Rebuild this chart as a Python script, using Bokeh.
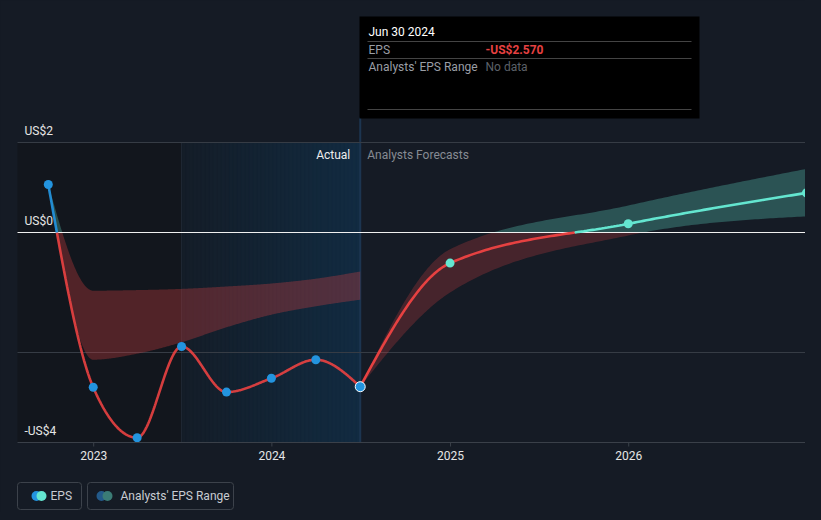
import numpy as np
from bokeh.plotting import figure
from bokeh.models import Range1d
from bokeh.core.properties import value
from bokeh.embed import file_html
from bokeh.resources import INLINE

# ---------------- data ----------------
eps_dates = ["2022-09-30", "2022-12-31", "2023-03-31", "2023-06-30",
             "2023-09-30", "2023-12-31", "2024-03-31", "2024-06-30"]
eps_values = [0.80, -2.58, -3.42, -1.90, -2.66, -2.43, -2.12, -2.57]
past_range_high = [0.80, -0.97, -0.96, -0.94, -0.90, -0.85, -0.77, -0.65]
past_range_low = [0.80, -2.12, -2.02, -1.83, -1.58, -1.37, -1.23, -1.12]

fc_dates = ["2024-06-30", "2024-12-31", "2025-12-31", "2026-12-31"]
fc_values = [-2.57, -0.51, 0.145, 0.66]
fc_high = [-2.57, -0.28, 0.45, 1.06]
fc_low = [-2.57, -1.00, -0.05, 0.27]

year_ticks = ["2023-01-01", "2024-01-01", "2025-01-01", "2026-01-01"]
year_labels = ["2023", "2024", "2025", "2026"]
y_label_values = [1.5, 0.0, -3.5]
y_labels = ["US$2", "US$0", "-US$4"]
grid_values = [1.5, -2.0]

# ---------------- colours ----------------
BG = "#151b25"
DARK = "#12161d"
RED = "#e64141"
BLUE = "#2394df"
TURQ = "#64e6d0"
GRID = "#363c45"
FONT = value("Roboto")


def ms(d):
    return np.datetime64(d, "ms").astype("int64").astype(float)


DAY = 86400000.0
PX_PER_DAY = 178.3 / 365.25
T_REF, PX_REF = ms("2023-01-01"), 93.2


def xd(px):  # screen pixel -> x data
    return T_REF + (px - PX_REF) / PX_PER_DAY * DAY


def yd(py):  # screen pixel -> y data
    return (232.0 - py) / 60.0


def monotone(xs, ys, n=60):
    x = np.asarray(xs, float) / DAY
    y = np.asarray(ys, float)
    m = len(x)
    h = np.diff(x)
    s = np.diff(y) / h
    t = np.zeros(m)
    for i in range(1, m - 1):
        h0, h1, s0, s1 = h[i - 1], h[i], s[i - 1], s[i]
        p = (s0 * h1 + s1 * h0) / (h0 + h1)
        t[i] = (np.sign(s0) + np.sign(s1)) * min(abs(s0), abs(s1), 0.5 * abs(p))
    if m > 2:
        t[0] = (3 * s[0] - t[1]) / 2
        t[-1] = (3 * s[-1] - t[-2]) / 2
    else:
        t[0] = t[-1] = s[0]
    ox, oy = [], []
    for i in range(m - 1):
        u = np.linspace(0, 1, n, endpoint=(i == m - 2))
        h00 = 2 * u**3 - 3 * u**2 + 1
        h10 = u**3 - 2 * u**2 + u
        h01 = -2 * u**3 + 3 * u**2
        h11 = u**3 - u**2
        ox.append(x[i] + u * h[i])
        oy.append(h00 * y[i] + h10 * h[i] * t[i] + h01 * y[i + 1] + h11 * h[i] * t[i + 1])
    return np.concatenate(ox) * DAY, np.concatenate(oy)


def with_crossings(x, y):
    ox, oy = [x[0]], [y[0]]
    for i in range(1, len(x)):
        if (y[i - 1] < 0 < y[i]) or (y[i - 1] > 0 > y[i]):
            f = y[i - 1] / (y[i - 1] - y[i])
            ox.append(x[i - 1] + f * (x[i] - x[i - 1]))
            oy.append(0.0)
        ox.append(x[i])
        oy.append(y[i])
    return np.array(ox), np.array(oy)


W, H = 805, 512
p = figure(width=W, height=H, x_axis_type="datetime",
           x_range=Range1d(xd(0), xd(W)), y_range=Range1d(yd(H), yd(0)),
           output_backend="svg", toolbar_location=None,
           min_border=0, background_fill_color=BG, border_fill_color=BG,
           outline_line_color=None)
p.axis.visible = False
p.grid.visible = False

top, bottom = grid_values[0], y_label_values[-1]
left_px, right_px = 17, 805

# background regions
p.quad(left=[xd(left_px)], right=[ms(eps_dates[3])], top=[top], bottom=[bottom],
       fill_color=DARK, line_color=None)
n_strips = 45
edges = np.linspace(ms(eps_dates[3]), ms(eps_dates[-1]), n_strips + 1)
c0, c1 = np.array([20, 29, 40]), np.array([18, 43, 65])
cols = ["#%02x%02x%02x" % tuple(np.round(c0 + (c1 - c0) * k / (n_strips - 1)).astype(int))
        for k in range(n_strips)]
right_edges = np.minimum(edges[1:] + DAY * 3, edges[-1])
p.quad(left=edges[:-1], right=right_edges, top=top, bottom=bottom,
       fill_color=cols, line_color=cols, line_width=0.5)
p.segment(x0=[ms(eps_dates[3])], x1=[ms(eps_dates[3])], y0=[top], y1=[bottom],
          line_color="#1f2834", line_width=1)
p.segment(x0=[ms(eps_dates[-1])], x1=[ms(eps_dates[-1])], y0=[yd(117)], y1=[bottom],
          line_color="#1c3550", line_width=2)

# grid lines
p.segment(x0=[xd(left_px)] * len(grid_values), x1=[xd(right_px)] * len(grid_values),
          y0=grid_values, y1=grid_values, line_color=GRID, line_width=1)


def band(dates, hi, lo, pos_col, neg_col, pos_alpha, neg_alpha):
    x, yh = monotone([ms(d) for d in dates], hi)
    _, yl = monotone([ms(d) for d in dates], lo)
    p.varea(x=x, y1=np.maximum(yl, 0), y2=np.maximum(yh, 0),
            fill_color=pos_col, fill_alpha=pos_alpha)
    p.varea(x=x, y1=np.minimum(yl, 0), y2=np.minimum(yh, 0),
            fill_color=neg_col, fill_alpha=neg_alpha)


band(eps_dates, past_range_high, past_range_low, TURQ, RED, 0.28, 0.30)
band(fc_dates, fc_high, fc_low, TURQ, RED, 0.28, 0.24)

# zero line
p.segment(x0=[xd(left_px)], x1=[xd(right_px)], y0=[0], y1=[0], line_color="#f0f0f0", line_width=1)


def sign_line(dates, vals, pos_col, neg_col, alpha=1.0):
    x, y = monotone([ms(d) for d in dates], vals)
    x, y = with_crossings(x, y)
    p.line(x, np.where(y <= 0, y, np.nan), line_color=neg_col, line_width=2.6, line_alpha=alpha)
    p.line(x, np.where(y >= 0, y, np.nan), line_color=pos_col, line_width=2.6, line_alpha=alpha)


sign_line(eps_dates, eps_values, BLUE, RED, 0.92)
sign_line(fc_dates, fc_values, TURQ, RED)

p.scatter([ms(d) for d in eps_dates[:-1]], eps_values[:-1], size=9,
          fill_color=BLUE, line_color=None)
p.scatter([ms(eps_dates[-1])], [eps_values[-1]], size=10,
          fill_color=BLUE, line_color="white", line_width=1)
p.scatter([ms(d) for d in fc_dates[1:]], fc_values[1:], size=9,
          fill_color=TURQ, line_color=None)

# x axis
p.segment(x0=[xd(left_px)], x1=[xd(right_px)], y0=[bottom], y1=[bottom],
          line_color="#3a4049", line_width=1)
tx = [ms(d) for d in year_ticks]
p.segment(x0=tx, x1=tx, y0=[bottom] * 4, y1=[bottom - 4 / 60] * 4,
          line_color="#3a4049", line_width=1)
p.text(x=tx, y=[bottom - 13 / 60] * 4, text=year_labels, text_font=FONT,
       text_font_size="12px", text_color="#e6e6e6", text_align="center",
       text_baseline="middle")

# y labels
p.text(x=[xd(24)] * 3, y=[v + 12 / 60 for v in y_label_values], text=y_labels,
       text_font=FONT, text_font_size="12px", text_color="#e6e6e6",
       text_align="left", text_baseline="middle")

# Actual / Analysts Forecasts
p.text(x=[ms(eps_dates[-1]) - 10 / PX_PER_DAY * DAY], y=[top - 12 / 60], text=["Actual"],
       text_font=FONT, text_font_size="12px", text_color="#eeeeee",
       text_align="right", text_baseline="middle")
p.text(x=[ms(eps_dates[-1]) + 7 / PX_PER_DAY * DAY], y=[top - 12 / 60], text=["Analysts Forecasts"],
       text_font=FONT, text_font_size="12px", text_color="#868b93",
       text_align="left", text_baseline="middle")

# tooltip
p.quad(left=[xd(359)], right=[xd(699)], top=[yd(16)], bottom=[yd(118)],
       fill_color="#000000", line_color=None)
p.segment(x0=[xd(367)] * 3, x1=[xd(691)] * 3, y0=[yd(41), yd(58), yd(109)],
          y1=[yd(41), yd(58), yd(109)], line_color="#444444", line_width=1)
d = np.datetime64(eps_dates[-1]).astype(object)
title = d.strftime("%b %d %Y")
val_txt = ("-" if eps_values[-1] < 0 else "") + "US$%.3f" % abs(eps_values[-1])
p.text(x=[xd(368)], y=[yd(31)], text=[title], text_font=FONT, text_font_size="12px",
       text_color="#ffffff", text_baseline="middle")
p.text(x=[xd(368), xd(368)], y=[yd(49.5), yd(66)], text=["EPS", "Analysts' EPS Range"],
       text_font=FONT, text_font_size="12px", text_color="#9a9ea5", text_baseline="middle")
p.text(x=[xd(485)], y=[yd(49.5)], text=[val_txt], text_font=FONT, text_font_size="12px",
       text_color=RED, text_font_style="bold", text_baseline="middle")
p.text(x=[xd(485)], y=[yd(66)], text=["No data"], text_font=FONT, text_font_size="12px",
       text_color="#5c6168", text_baseline="middle")

# legend
p.quad(left=[xd(17), xd(87)], right=[xd(81), xd(233)], top=[yd(482)] * 2, bottom=[yd(509)] * 2,
       fill_color=None, line_color="#3c424b", line_width=1, border_radius=3)
p.scatter([xd(36), xd(101)], [yd(495.5)] * 2, size=10, fill_color=[BLUE, "#235a8a"], line_color=None)
p.scatter([xd(41), xd(107)], [yd(495.5)] * 2, size=10, fill_color=[TURQ, "#3b7c76"], line_color=None)
p.text(x=[xd(50), xd(120)], y=[yd(495.5)] * 2, text=["EPS", "Analysts' EPS Range"],
       text_font=FONT, text_font_size="12px", text_color="#c8ccd2", text_baseline="middle")

html = file_html(p, INLINE)
html = html.replace("<head>", "<head><style>body{background:%s;}</style>" % BG, 1)
open("out.html", "w").write(html)
